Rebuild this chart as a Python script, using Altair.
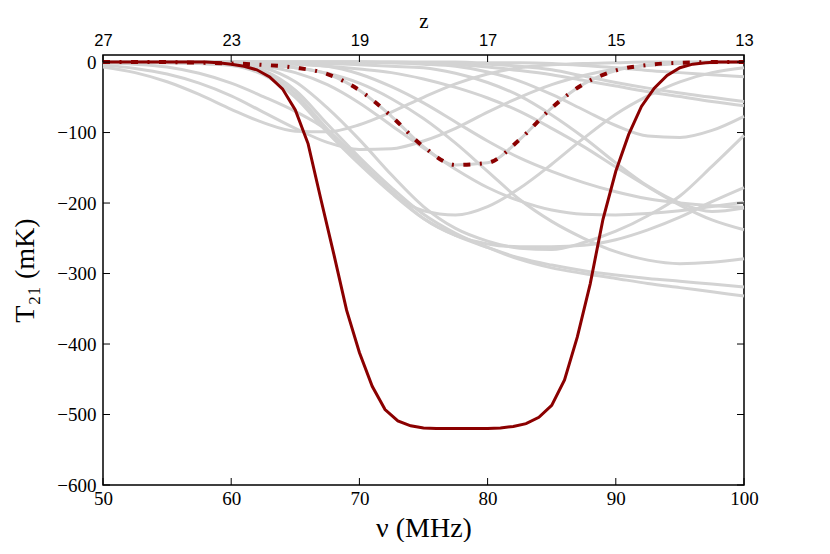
import altair as alt
import pandas as pd

# ---------------- data ----------------
nu_grid = [50.0, 52.5, 55.0, 57.5, 60.0, 62.5, 65.0, 67.5, 70.0, 72.5, 75.0,
           77.5, 80.0, 82.5, 85.0, 87.5, 90.0, 92.5, 95.0, 97.5, 100.0]

g01 = [-7, -15, -28, -46, -67, -86, -98, -99, -89, -71, -50, -31, -17, -8, -4, -2, -1, 0, 0, 0, 0]
g02 = [-4, -9, -17, -30, -48, -71, -94, -114, -124, -123, -112, -94, -71, -50, -32, -19, -10, -5, -2, -1, 0]
g03 = [0, 0, 0, -1, -2, -4, -8, -17, -40, -77, -120, -146, -143, -110, -65, -31, -12, -4, -1, 0, 0]
g04 = [-1, -3, -7, -16, -30, -49, -70, -97, -140, -185, -211, -217, -205, -179, -145, -108, -74, -48, -28, -15, -8]
g05 = [0, 0, 0, 0, -1, -2, -3, -6, -10, -15, -24, -36, -51, -70, -94, -120, -149, -177, -203, -224, -238]
g06 = [0, 0, 0, -1, -4, -15, -45, -95, -140, -183, -222, -246, -258, -262, -262, -260, -252, -238, -220, -198, -178]
g07 = [0, 0, -1, -2, -5, -18, -50, -100, -145, -186, -222, -246, -263, -278, -288, -296, -302, -307, -311, -315, -319]
g08 = [0, 0, 0, -1, -3, -12, -40, -88, -135, -178, -216, -243, -263, -280, -292, -300, -307, -314, -320, -326, -332]
g09 = [0, 0, 0, 0, -2, -8, -28, -65, -110, -160, -205, -236, -254, -264, -266, -256, -240, -218, -190, -148, -104]
g10 = [0, 0, 0, -1, -2, -4, -8, -16, -30, -52, -80, -115, -155, -195, -226, -250, -269, -281, -286, -284, -279]
g11 = [0, 0, -1, -2, -3, -6, -15, -32, -58, -90, -122, -152, -178, -197, -210, -216, -217, -215, -211, -205, -199]
g12 = [0, 0, 0, 0, 0, 0, 0, 0, 0, -1, -3, -6, -14, -27, -46, -68, -90, -105, -107, -97, -77]
g13 = [0, 0, 0, 0, 0, 0, 0, 0, 0, 0, -1, -2, -3, -6, -11, -20, -29, -37, -44, -50, -56]
g14 = [0, 0, 0, 0, 0, 0, 0, 0, 0, -1, -2, -4, -7, -12, -18, -26, -34, -42, -49, -56, -62]
g15 = [0, 0, 0, 0, 0, 0, 0, 0, 0, 0, 0, 0, -1, -1, -2, -5, -8, -12, -15, -18, -21]
g16 = [0, 0, 0, 0, 0, -1, -3, -6, -17, -35, -58, -85, -112, -136, -155, -171, -184, -194, -200, -204, -206]
g17 = [0, 0, 0, 0, 0, 0, -1, -2, -4, -6, -8, -16, -29, -48, -75, -107, -143, -176, -200, -212, -207]

gray_curves = {"g01": g01, "g02": g02, "g03": g03, "g04": g04, "g05": g05,
               "g06": g06, "g07": g07, "g08": g08, "g09": g09, "g10": g10,
               "g11": g11, "g12": g12, "g13": g13, "g14": g14, "g15": g15,
               "g16": g16, "g17": g17}

nu_fine = [50, 51, 52, 53, 54, 55, 56, 57, 58, 59, 60, 61, 62, 63, 64, 65, 66,
           67, 68, 69, 70, 71, 72, 73, 74, 75, 76, 77, 78, 79, 80, 81, 82, 83,
           84, 85, 86, 87, 88, 89, 90, 91, 92, 93, 94, 95, 96, 97, 98, 99, 100]
red_solid = [0, 0, 0, 0, 0, 0, 0, 0, 0, -1, -3, -6, -11, -21, -38, -68, -116,
             -195, -272, -352, -412, -460, -493, -509, -516, -519, -520, -520,
             -520, -520, -520, -519, -517, -513, -504, -487, -451, -390, -315,
             -223, -155, -103, -63, -37, -19, -8, -3, -1, 0, 0, 0]
red_dotted = g03

x_ticks = [50, 60, 70, 80, 90, 100]
z_labels = ["27", "23", "19", "17", "15", "13"]
y_ticks = [-600, -500, -400, -300, -200, -100, 0]

# ---------------- tables ----------------
rows = []
for name, vals in gray_curves.items():
    for n, t in zip(nu_grid, vals):
        rows.append({"nu": n, "T": t, "curve": name})
gray_df = pd.DataFrame(rows)
solid_df = pd.DataFrame({"nu": nu_fine, "T": red_solid})
dotted_df = pd.DataFrame({"nu": nu_grid, "T": red_dotted})
xt_df = pd.DataFrame({"v": x_ticks})
yt_df = pd.DataFrame({"v": y_ticks})

W, H = 641, 430
TL = 7
SERIF = "Liberation Serif"
SANS = "Liberation Sans"

xscale = alt.Scale(domain=[50, 100], nice=False, zero=False)
yscale = alt.Scale(domain=[-600, 10], nice=False, zero=False)

label_expr = " : ".join(
    f"datum.value == {v} ? '{l}'" for v, l in zip(x_ticks, z_labels)) + " : ''"

bottom_axis = alt.Axis(values=x_ticks, format="d", ticks=False, tickSize=0,
                       domain=False, grid=False, labelFont=SERIF,
                       labelFontSize=19, labelColor="black", labelPadding=4,
                       labelFlush=False, labelOverlap=False,
                       title="ν (MHz)", titleFont=SERIF, titleFontSize=28,
                       titleFontWeight="normal", titleColor="black",
                       titleY=51, titleBaseline="alphabetic")
top_axis = alt.Axis(orient="top", values=x_ticks, labelExpr=label_expr,
                    ticks=False, tickSize=0, domain=False, grid=False,
                    labelFont=SANS, labelFontSize=16.5, labelColor="black",
                    labelPadding=7, labelFlush=False, labelOverlap=False,
                    title="z", titleFont=SERIF, titleFontSize=21,
                    titleFontWeight="normal", titleColor="black",
                    titleY=-28, titleBaseline="alphabetic")
left_axis = alt.Axis(values=y_ticks, ticks=False, tickSize=0, domain=False,
                     grid=False, labelFont=SERIF, labelFontSize=19,
                     labelColor="black", labelPadding=7, labelOverlap=False,
                     title="T₂₁ (mK)", titleFont=SERIF, titleFontSize=28,
                     titleFontWeight="normal", titleColor="black",
                     titleAngle=-90, titleX=-64, titleY=H / 2,
                     titleAlign="center", titleBaseline="bottom")

gray = alt.Chart(gray_df).mark_line(
    color="#d3d3d3", strokeWidth=3, interpolate="monotone").encode(
    x=alt.X("nu:Q", scale=xscale, axis=bottom_axis),
    y=alt.Y("T:Q", scale=yscale, axis=left_axis),
    detail="curve:N",
)

solid = alt.Chart(solid_df).mark_line(color="#8b0000", strokeWidth=3).encode(
    x=alt.X("nu:Q", scale=xscale, axis=None),
    y=alt.Y("T:Q", scale=yscale, axis=None),
)

dotted = alt.Chart(dotted_df).mark_line(
    color="#8b0000", strokeWidth=4, strokeDash=[7, 9.5, 2, 9.5],
    interpolate="monotone").encode(
    x=alt.X("nu:Q", scale=xscale, axis=None),
    y=alt.Y("T:Q", scale=yscale, axis=None),
)

tick_bottom = alt.Chart(xt_df).mark_rule(color="black", strokeWidth=1).encode(
    x=alt.X("v:Q", scale=xscale, axis=None),
    y=alt.value(H), y2=alt.value(H - TL),
)
tick_top = alt.Chart(xt_df).mark_rule(color="black", strokeWidth=1).encode(
    x=alt.X("v:Q", scale=xscale, axis=top_axis),
    y=alt.value(0), y2=alt.value(TL),
)
tick_left = alt.Chart(yt_df).mark_rule(color="black", strokeWidth=1).encode(
    y=alt.Y("v:Q", scale=yscale, axis=None),
    x=alt.value(0), x2=alt.value(TL),
)
tick_right = alt.Chart(yt_df).mark_rule(color="black", strokeWidth=1).encode(
    y=alt.Y("v:Q", scale=yscale, axis=None),
    x=alt.value(W - TL), x2=alt.value(W),
)

chart = alt.layer(
    gray, solid, dotted, tick_bottom, tick_top, tick_left, tick_right
).resolve_axis(x="independent", y="independent").properties(
    width=W, height=H,
    autosize=alt.AutoSizeParams(type="none"),
    padding={"left": 95, "top": 47, "right": 60, "bottom": 57},
    background="white",
).configure_view(stroke="black", strokeWidth=1.5)

chart.save("out.html", embed_options={"renderer": "svg", "actions": False})
